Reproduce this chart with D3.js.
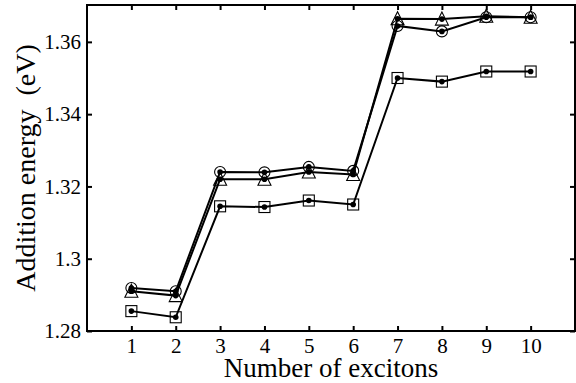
<!DOCTYPE html>
<html>
<head>
<meta charset="utf-8">
<script src="https://cdn.jsdelivr.net/npm/d3@7"></script>
<style>
  body { margin: 0; background: #fff; }
  svg { display: block; }
  text { font-family: "Liberation Serif", "Times New Roman", serif; fill: #000; }
</style>
</head>
<body>
<div id="chart"></div>
<script>
// number of excitons
var excitons = [1, 2, 3, 4, 5, 6, 7, 8, 9, 10];

// addition energy (eV) for the three curves
var circleSeries   = [1.2919, 1.2910, 1.3240, 1.3239, 1.3254, 1.3243, 1.3644, 1.3629, 1.3668, 1.3668];
var triangleSeries = [1.2910, 1.2898, 1.3220, 1.3220, 1.3240, 1.3233, 1.3664, 1.3663, 1.3671, 1.3668];
var squareSeries   = [1.2855, 1.2838, 1.3145, 1.3143, 1.3161, 1.3150, 1.3500, 1.3490, 1.3518, 1.3518];

var yTicks = [1.28, 1.30, 1.32, 1.34, 1.36];
var yTickLabels = ["1.28", "1.3", "1.32", "1.34", "1.36"];

var width = 576,
    height = 383,
    margin = {top: 5, right: 1, bottom: 52, left: 87};

var svg = d3.select("#chart").append("svg")
    .attr("width", width)
    .attr("height", height);

var x = d3.scaleLinear().domain([0, 11]).range([margin.left, width - margin.right]);
var y = d3.scaleLinear().domain([1.28, 1.3702]).range([height - margin.bottom, margin.top]);

// axes with ticks pointing inward
var gx = svg.append("g")
    .attr("transform", "translate(0," + (height - margin.bottom) + ")")
    .call(d3.axisBottom(x).tickValues(excitons).tickSize(-5).tickSizeOuter(0).tickPadding(9));
var gxTop = svg.append("g")
    .attr("transform", "translate(0," + margin.top + ")")
    .call(d3.axisTop(x).tickValues(excitons).tickSize(-5).tickSizeOuter(0).tickFormat(""));
var gy = svg.append("g")
    .attr("transform", "translate(" + margin.left + ",0)")
    .call(d3.axisLeft(y).tickValues(yTicks).tickSize(-5).tickSizeOuter(0).tickPadding(6)
        .tickFormat(function(d, i) { return yTickLabels[i]; }));
var gyRight = svg.append("g")
    .attr("transform", "translate(" + (width - margin.right) + ",0)")
    .call(d3.axisRight(y).tickValues(yTicks).tickSize(-5).tickSizeOuter(0).tickFormat(""));

[gx, gxTop, gy, gyRight].forEach(function(g) {
    g.attr("font-family", null).attr("font-size", null);
    g.select(".domain").remove();
    g.selectAll(".tick line").attr("stroke", "#000").attr("stroke-width", 2);
    g.selectAll(".tick text")
        .style("font-family", "'Liberation Serif', 'Times New Roman', serif")
        .style("font-size", "21px")
        .attr("fill", "#000");
});
gx.selectAll(".tick text").attr("dy", "0.64em");

// box
svg.append("rect")
    .attr("x", margin.left)
    .attr("y", margin.top)
    .attr("width", width - margin.right - margin.left)
    .attr("height", height - margin.bottom - margin.top)
    .attr("fill", "none")
    .attr("stroke", "#000")
    .attr("stroke-width", 2);

var line = d3.line()
    .x(function(d, i) { return x(excitons[i]); })
    .y(function(d) { return y(d); });

var series = [
    {values: squareSeries, marker: "square"},
    {values: triangleSeries, marker: "triangle"},
    {values: circleSeries, marker: "circle"}
];

series.forEach(function(s) {
    svg.append("path")
        .datum(s.values)
        .attr("d", line)
        .attr("fill", "none")
        .attr("stroke", "#000")
        .attr("stroke-width", 2);
});

series.forEach(function(s) {
    var g = svg.append("g");
    var pts = g.selectAll("g.pt").data(s.values).enter().append("g")
        .attr("class", "pt")
        .attr("transform", function(d, i) { return "translate(" + x(excitons[i]) + "," + y(d) + ")"; });

    if (s.marker == "circle") {
        pts.append("circle").attr("r", 5.5);
    } else if (s.marker == "square") {
        pts.append("rect").attr("x", -5.5).attr("y", -5.5).attr("width", 11).attr("height", 11);
    } else {
        pts.append("path").attr("d", "M0,-7L6.5,6L-6.5,6Z");
    }
    pts.selectAll("circle, rect, path")
        .attr("fill", "none")
        .attr("stroke", "#000")
        .attr("stroke-width", 1.1);

    pts.append("circle")
        .attr("r", 2.8)
        .attr("fill", "#000");
});

// axis titles
svg.append("text")
    .attr("x", (x(0) + x(11)) / 2)
    .attr("y", 377)
    .attr("text-anchor", "middle")
    .style("font-size", "27px")
    .text("Number of excitons");

svg.append("text")
    .attr("transform", "translate(35," + ((margin.top + height - margin.bottom) / 2) + ")rotate(-90)")
    .attr("text-anchor", "middle")
    .style("font-size", "28px")
    .style("white-space", "pre")
    .text("Addition energy  (eV)");
</script>
</body>
</html>
